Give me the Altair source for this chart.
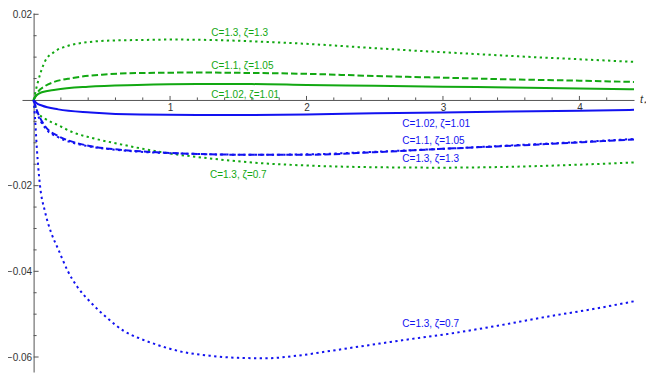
import altair as alt
import pandas as pd

GREEN = "#12a812"
BLUE = "#1212f0"
AXIS = "#555555"
FONT = "Liberation Sans"

# ---- curves (t, value) ----
t_g_13_13 = [0, 0.03, 0.08, 0.15, 0.25, 0.4, 0.6, 0.8, 1.0, 1.3, 1.6, 2.0, 2.4, 2.8, 3.2, 3.6, 4.0, 4.4]
v_g_13_13 = [0, 0.0040, 0.0088, 0.0112, 0.0126, 0.0135, 0.0139, 0.0140, 0.0141, 0.0140, 0.0137, 0.0131, 0.0123, 0.0115, 0.0108, 0.0101, 0.0095, 0.0089]

t_g_11_105 = [0, 0.03, 0.086, 0.15, 0.28, 0.5, 0.8, 1.2, 1.6, 2.0, 2.5, 3.0, 3.5, 4.0, 4.4]
v_g_11_105 = [0, 0.0018, 0.0033, 0.0042, 0.0051, 0.0059, 0.0063, 0.0064, 0.0063, 0.0061, 0.0056, 0.0052, 0.0048, 0.0045, 0.0042]

t_g_102_101 = [0, 0.02, 0.06, 0.16, 0.4, 0.76, 1.2, 1.6, 2.0, 2.5, 3.0, 3.5, 4.0, 4.4]
v_g_102_101 = [0, 0.0010, 0.0018, 0.0024, 0.0031, 0.0035, 0.0037, 0.0037, 0.0035, 0.0033, 0.0031, 0.0029, 0.0027, 0.0025]

t_b_102_101 = [0, 0.02, 0.06, 0.18, 0.42, 0.78, 1.2, 1.6, 2.0, 2.5, 3.0, 3.5, 4.0, 4.4]
v_b_102_101 = [0, -0.0007, -0.0013, -0.0022, -0.0029, -0.0034, -0.0035, -0.0035, -0.0034, -0.0031, -0.0029, -0.0027, -0.0025, -0.0023]

t_b_11_105 = [0, 0.026, 0.086, 0.18, 0.3, 0.42, 0.66, 0.9, 1.2, 1.6, 2.0, 2.5, 3.0, 3.5, 4.0, 4.4]
v_b_11_105 = [0, -0.0026, -0.0062, -0.0084, -0.0099, -0.0108, -0.0117, -0.0122, -0.0126, -0.0128, -0.0128, -0.0122, -0.0114, -0.0107, -0.0099, -0.0092]

t_b_13_13 = [0, 0.026, 0.086, 0.18, 0.3, 0.42, 0.66, 0.9, 1.2, 1.6, 2.0, 2.5, 3.0, 3.5, 4.0, 4.4]
v_b_13_13 = [0, -0.0030, -0.0066, -0.0087, -0.0101, -0.0109, -0.0118, -0.0123, -0.0126, -0.0128, -0.0127, -0.0121, -0.0114, -0.0106, -0.0098, -0.0091]

t_g_13_07 = [0, 0.03, 0.086, 0.18, 0.3, 0.42, 0.66, 0.8, 1.0, 1.25, 1.6, 2.0, 2.5, 3.0, 3.5, 4.0, 4.4]
v_g_13_07 = [0, -0.0030, -0.0044, -0.0059, -0.0077, -0.0088, -0.0105, -0.0114, -0.0125, -0.0135, -0.0146, -0.0153, -0.0157, -0.0158, -0.0156, -0.0151, -0.0146]

t_b_13_07 = [0, 0.01, 0.024, 0.047, 0.083, 0.13, 0.18, 0.25, 0.32, 0.42, 0.54, 0.66, 0.78, 0.9, 1.09, 1.29, 1.5, 1.7, 1.93, 2.17, 2.4, 2.7, 3.04, 3.4, 3.76, 4.1, 4.4]
v_b_13_07 = [0, -0.0040, -0.0114, -0.0200, -0.0260, -0.0311, -0.0348, -0.0399, -0.0436, -0.0473, -0.0509, -0.0539, -0.0557, -0.0571, -0.0588, -0.0597, -0.0602, -0.0603, -0.0597, -0.0586, -0.0575, -0.0561, -0.0546, -0.0527, -0.0506, -0.0488, -0.0470]

# ---- curve labels ----
green_label_text = ["C=1.3, ζ=1.3", "C=1.1, ζ=1.05", "C=1.02, ζ=1.01", "C=1.3, ζ=0.7"]
green_label_t = [1.51, 1.53, 1.55, 1.50]
green_label_v = [0.0156, 0.00785, 0.00125, -0.0176]
blue_label_text = ["C=1.02, ζ=1.01", "C=1.1, ζ=1.05", "C=1.3, ζ=1.3", "C=1.3, ζ=0.7"]
blue_label_t = [2.95, 2.93, 2.91, 2.91]
blue_label_v = [-0.00565, -0.0096, -0.0138, -0.0522]

# ---- axis ticks ----
x_major = [1, 2, 3, 4]
x_minor = [0.2, 0.4, 0.6, 0.8, 1.2, 1.4, 1.6, 1.8, 2.2, 2.4, 2.6, 2.8,
           3.2, 3.4, 3.6, 3.8, 4.2]
y_major = [-0.06, -0.04, -0.02, 0.02]
y_minor = [-0.055, -0.05, -0.045, -0.035, -0.03, -0.025, -0.015, -0.01, -0.005,
           0.005, 0.01, 0.015]

XMIN, XMAX = -0.085, 4.4
YMIN, YMAX = -0.0635, 0.0203
W, H = 612, 359

y0_px = (YMAX - 0) / (YMAX - YMIN) * H
x0_px = (0 - XMIN) / (XMAX - XMIN) * W

xs = alt.Scale(domain=[XMIN, XMAX], nice=False, zero=False)
ys = alt.Scale(domain=[YMIN, YMAX], nice=False, zero=False)

x_axis = alt.Axis(values=x_major, format="d", ticks=False, grid=False, title=None,
                  domain=True, domainColor=AXIS, domainWidth=1,
                  labelColor="#333333", labelFont=FONT,
                  labelFontSize=10, labelPadding=3, labelFlush=False,
                  offset=-(H - y0_px))
y_axis = alt.Axis(values=y_major, format=".2f", ticks=False, grid=False, title=None,
                  domain=True, domainColor=AXIS, domainWidth=1,
                  labelColor="#333333", labelFont=FONT,
                  labelFontSize=10, labelPadding=2, labelFlush=False,
                  offset=-x0_px)

X = lambda f: alt.X(f, scale=xs, axis=x_axis)
Y = lambda f: alt.Y(f, scale=ys, axis=y_axis)

DOT = [2.3, 3.4]
DASH = [6.5, 3]

series = [
    (t_b_13_07, v_b_13_07, BLUE, DOT),
    (t_g_13_13, v_g_13_13, GREEN, DOT),
    (t_g_11_105, v_g_11_105, GREEN, DASH),
    (t_g_102_101, v_g_102_101, GREEN, None),
    (t_b_102_101, v_b_102_101, BLUE, None),
    (t_g_13_07, v_g_13_07, GREEN, DOT),
    (t_b_11_105, v_b_11_105, BLUE, DASH),
    (t_b_13_13, v_b_13_13, BLUE, DOT),
]

layers = []
for tt, vv, col, dash in series:
    df = pd.DataFrame({"t": tt, "v": vv})
    kw = dict(color=col, strokeWidth=2, interpolate="monotone")
    if dash is not None:
        kw["strokeDash"] = dash
    layers.append(alt.Chart(df).mark_line(**kw).encode(x=X("t:Q"), y=Y("v:Q")))

zero_df = pd.DataFrame({"z": [0]})

# inward ticks on x axis (drawn from the zero line upward)
layers.append(
    alt.Chart(pd.DataFrame({"t": x_major, "z": [0] * len(x_major)}))
    .mark_rule(color=AXIS, strokeWidth=1, y2Offset=-4)
    .encode(x=X("t:Q"), y=Y("z:Q"), y2="z:Q")
)
layers.append(
    alt.Chart(pd.DataFrame({"t": x_minor, "z": [0] * len(x_minor)}))
    .mark_rule(color=AXIS, strokeWidth=1, y2Offset=-2.5)
    .encode(x=X("t:Q"), y=Y("z:Q"), y2="z:Q")
)
# inward ticks on y axis
layers.append(
    alt.Chart(pd.DataFrame({"v": y_major, "z": [0] * len(y_major)}))
    .mark_rule(color=AXIS, strokeWidth=1, x2Offset=5)
    .encode(y=Y("v:Q"), x=X("z:Q"), x2="z:Q")
)
layers.append(
    alt.Chart(pd.DataFrame({"v": y_minor, "z": [0] * len(y_minor)}))
    .mark_rule(color=AXIS, strokeWidth=1, x2Offset=3)
    .encode(y=Y("v:Q"), x=X("z:Q"), x2="z:Q")
)

# curve labels
for txt, tt, vv, col in [(green_label_text, green_label_t, green_label_v, GREEN),
                         (blue_label_text, blue_label_t, blue_label_v, BLUE)]:
    ldf = pd.DataFrame({"t": tt, "v": vv, "txt": txt})
    layers.append(
        alt.Chart(ldf).mark_text(font=FONT, fontSize=10, align="center",
                                 baseline="middle", color=col)
        .encode(x=X("t:Q"), y=Y("v:Q"), text="txt:N")
    )

# axis title t*
ttl = pd.DataFrame({"t": [XMAX], "v": [0]})
layers.append(
    alt.Chart(ttl).mark_text(text="t", font=FONT, fontSize=11, fontStyle="italic",
                             align="left", baseline="middle", dx=6, color="#333333")
    .encode(x=X("t:Q"), y=Y("v:Q"))
)
layers.append(
    alt.Chart(ttl).mark_text(text="*", font=FONT, fontSize=8,
                             align="left", baseline="middle", dx=10, dy=4, color="#333333")
    .encode(x=X("t:Q"), y=Y("v:Q"))
)

chart = alt.layer(*layers).properties(
    width=W, height=H,
    autosize=alt.AutoSizeParams(type="none"),
    padding={"left": 14, "top": 5, "right": 12, "bottom": 2},
).configure_view(stroke=None)

chart.save("out.html", embed_options={"renderer": "svg", "actions": False})
